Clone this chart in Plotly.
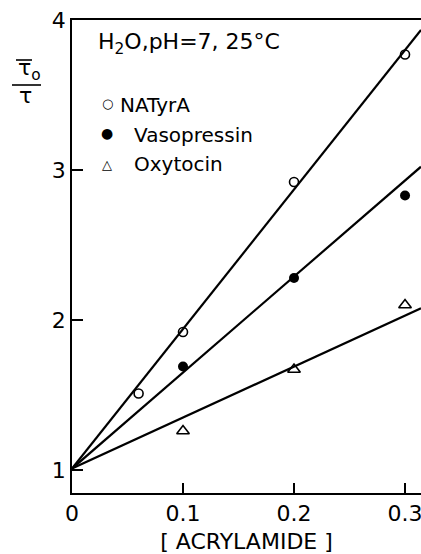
import plotly.graph_objects as go

# Stern-Volmer quenching by acrylamide, H2O pH 7, 25 C
acrylamide_natyra = [0.06, 0.10, 0.20, 0.30]
ratio_natyra = [1.51, 1.92, 2.92, 3.77]

acrylamide_vaso = [0.10, 0.20, 0.30]
ratio_vaso = [1.69, 2.28, 2.83]

acrylamide_oxy = [0.10, 0.20, 0.30]
ratio_oxy = [1.26, 1.67, 2.10]

# fitted straight lines: common intercept, one slope per compound
fit_intercept = 1.01
fit_slopes = {"NATyrA": 9.3, "Vasopressin": 6.4, "Oxytocin": 3.4}
fit_x = [0.0, 0.3144]

x_ticks = [0, 0.1, 0.2, 0.3]
x_tick_labels = ["0", "0.1", "0.2", "0.3"]
y_ticks = [1, 2, 3, 4]
y_tick_labels = ["1", "2", "3", "4"]

FONT = "DejaVu Sans"
W, H = 421, 554
ML, MR, MT, MB = 72, 0, 20, 61


def px(x):
    return (x - ML) / (W - ML - MR)


def py(y):
    return (H - MB - y) / (H - MT - MB)


fig = go.Figure()

for name in ["NATyrA", "Vasopressin", "Oxytocin"]:
    m = fit_slopes[name]
    fig.add_trace(go.Scatter(
        x=fit_x, y=[fit_intercept + m * x for x in fit_x],
        mode="lines", line=dict(color="black", width=2.2),
        showlegend=False, hoverinfo="skip", cliponaxis=False))

fig.add_trace(go.Scatter(
    x=acrylamide_natyra, y=ratio_natyra, mode="markers", name="NATyrA",
    marker=dict(symbol="circle-open", size=9, color="black", line=dict(width=1.6))))
fig.add_trace(go.Scatter(
    x=acrylamide_vaso, y=ratio_vaso, mode="markers", name="Vasopressin",
    marker=dict(symbol="circle", size=10, color="black")))
fig.add_trace(go.Scatter(
    x=acrylamide_oxy, y=ratio_oxy, mode="markers", name="Oxytocin",
    marker=dict(symbol="triangle-up-open", size=11, color="black", line=dict(width=1.6))))

annotations = [
    dict(text="H<sub>2</sub>O,pH=7, 25°C", x=px(96), y=py(43), xanchor="left",
         font=dict(size=22)),
    dict(text="○", x=px(107), y=py(103), font=dict(size=13)),
    dict(text="NATyrA", x=px(118), y=py(105), xanchor="left", font=dict(size=20)),
    dict(text="●", x=px(107), y=py(133), font=dict(size=14)),
    dict(text="Vasopressin", x=px(132), y=py(135), xanchor="left", font=dict(size=20)),
    dict(text="△", x=px(107), y=py(164), font=dict(size=13)),
    dict(text="Oxytocin", x=px(132), y=py(164), xanchor="left", font=dict(size=20)),
    dict(text="τ<sub>o</sub>", x=px(29), y=py(70), font=dict(size=22)),
    dict(text="τ", x=px(25), y=py(95), font=dict(size=22)),
]
for a in annotations:
    a.update(xref="paper", yref="paper", showarrow=False)
    a.setdefault("xanchor", "center")
    a.setdefault("yanchor", "middle")
    a["font"] = dict(family=FONT, color="black", size=a["font"]["size"])

shapes = [
    dict(type="line", x0=px(16), x1=px(32), y0=py(60), y1=py(60)),
    dict(type="line", x0=px(12), x1=px(41), y0=py(85), y1=py(85)),
]
for s in shapes:
    s.update(xref="paper", yref="paper", line=dict(color="black", width=1.6))

fig.update_layout(
    width=W, height=H,
    margin=dict(l=ML, r=MR, t=MT, b=MB, autoexpand=False),
    paper_bgcolor="white", plot_bgcolor="white",
    showlegend=False,
    font=dict(family=FONT, color="black"),
    annotations=annotations, shapes=shapes,
    xaxis=dict(
        range=[0, 0.3144], tickvals=x_ticks, ticktext=x_tick_labels,
        ticks="inside", ticklen=10, tickwidth=1.5, tickcolor="black",
        showline=True, linecolor="black", linewidth=1.8, mirror=True,
        showgrid=False, zeroline=False, tickfont=dict(size=22),
        ticklabeloverflow="allow", automargin=False,
        title=dict(text="[ ACRYLAMIDE ]", font=dict(size=22), standoff=11),
    ),
    yaxis=dict(
        range=[0.847, 4.0], tickvals=y_ticks, ticktext=y_tick_labels,
        ticks="inside", ticklen=11, tickwidth=1.5, tickcolor="black",
        showline=True, linecolor="black", linewidth=1.8,
        showgrid=False, zeroline=False, tickfont=dict(size=22),
        automargin=False,
    ),
)

fig.write_html("out.html")
